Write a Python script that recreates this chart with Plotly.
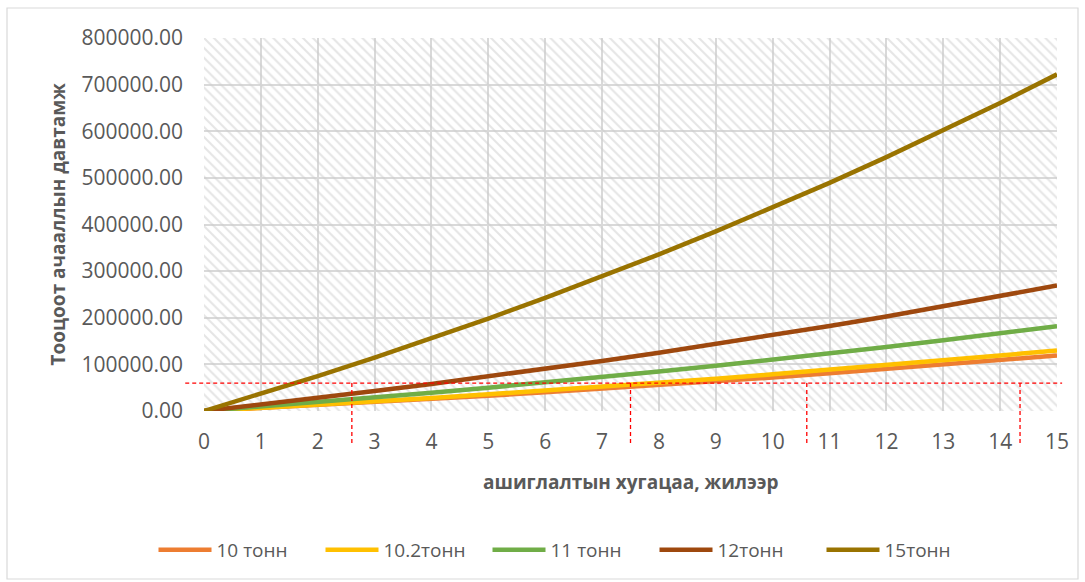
import plotly.graph_objects as go

# Years of operation
years = list(range(0, 16))

# Accumulated load cycles per vehicle load class
load_10 = [0, 6100, 12400, 18900, 25700, 32700, 40000, 47500, 55400, 63500,
           71900, 80700, 89700, 99100, 108900, 119000]
load_10_2 = [0, 6600, 13500, 20600, 28000, 35700, 43700, 51900, 60500, 69300,
             78600, 88100, 98000, 108300, 119000, 130000]
load_11 = [0, 9300, 18900, 28900, 39200, 50000, 61100, 72700, 84700, 97100,
           110000, 123400, 137200, 151600, 166500, 182000]
load_12 = [0, 13700, 27900, 42700, 58000, 73900, 90300, 107400, 125100, 143500,
           162600, 182300, 202800, 224100, 246100, 269000]
load_15 = [0, 36800, 75000, 114600, 155700, 198300, 242500, 288300, 335900, 385100,
           436300, 489400, 544400, 601500, 660600, 722000]

series_names = ["10 тонн", "10.2тонн", "11 тонн", "12тонн", "15тонн"]
series_values = [load_10, load_10_2, load_11, load_12, load_15]
series_colors = ["#ED7D31", "#FFC000", "#70AD47", "#9E480E", "#997300"]

# Reference levels marked with red dashed guides
threshold_level = 60000
marker_years = [2.6, 7.5, 10.6, 14.35]

x_range = [0, 15]
y_range = [0, 800000]
y_ticks = list(range(0, 800001, 100000))
y_tick_text = [f"{v:.2f}" for v in y_ticks]

W, H = 1085, 582
ML, MR, MT, MB = 204, 28, 38, 171

fig = go.Figure()

# Hatched plot-area background
fig.add_trace(go.Scatter(
    x=[x_range[0], x_range[1], x_range[1], x_range[0], x_range[0]],
    y=[y_range[0], y_range[0], y_range[1], y_range[1], y_range[0]],
    mode="lines", line=dict(width=0), fill="toself",
    fillcolor="rgba(0,0,0,0)",
    fillpattern=dict(shape="\\", fgcolor="#cccccc", bgcolor="rgba(255,255,255,0)",
                     size=7, solidity=0.3),
    hoverinfo="skip", showlegend=False,
))

for name, vals, col in zip(series_names, series_values, series_colors):
    fig.add_trace(go.Scatter(
        x=years, y=vals, name=name, mode="lines",
        line=dict(color=col, width=4.5),
    ))


def px(v):
    return (v - x_range[0]) / (x_range[1] - x_range[0])


def py(v):
    return (v - y_range[0]) / (y_range[1] - y_range[0])


dash = dict(color="#FF0000", width=1.3, dash="4px,3px")
shapes = [
    dict(type="line", xref="paper", yref="paper",
         x0=px(-0.33), x1=px(15.09), y0=py(threshold_level), y1=py(threshold_level),
         line=dash),
]
for yr in marker_years:
    shapes.append(dict(type="line", xref="paper", yref="paper",
                       x0=px(yr), x1=px(yr), y0=py(threshold_level), y1=py(-75000),
                       line=dash))

# Outer chart border
plot_w = W - ML - MR
plot_h = H - MT - MB
shapes.append(dict(type="rect", xref="paper", yref="paper",
                   x0=(7 - ML) / plot_w, x1=(1078 - ML) / plot_w,
                   y0=(H - MB - 579) / plot_h, y1=(H - MB - 8) / plot_h,
                   line=dict(color="#d9d9d9", width=1.2), fillcolor="rgba(0,0,0,0)",
                   layer="below"))

font_family = "Open Sans, Noto Sans, sans-serif"

fig.update_layout(
    width=W, height=H,
    margin=dict(l=ML, r=MR, t=MT, b=MB, autoexpand=False),
    paper_bgcolor="white", plot_bgcolor="white",
    font=dict(family=font_family, color="#595959"),
    shapes=shapes,
    xaxis=dict(
        range=x_range, tickmode="array", tickvals=years,
        ticktext=[str(y) for y in years],
        showgrid=True, gridcolor="#d9d9d9", gridwidth=1.5,
        zeroline=False, showline=False, ticks="",
        tickfont=dict(size=21, color="#595959"),
        ticklabelstandoff=16,
    ),
    yaxis=dict(
        range=y_range, tickmode="array", tickvals=y_ticks, ticktext=y_tick_text,
        showgrid=True, gridcolor="#d9d9d9", gridwidth=1.5,
        zeroline=False, showline=False, ticks="",
        tickfont=dict(size=21, color="#595959"),
        ticklabelstandoff=20,
    ),
    legend=dict(
        orientation="h", x=(571 - ML) / plot_w, xanchor="center",
        y=(H - MB - 550) / plot_h,
        yanchor="middle", font=dict(size=19, color="#595959"),
        itemwidth=53, entrywidth=99, bgcolor="rgba(0,0,0,0)",
    ),
    annotations=[
        dict(text="<b>ашиглалтын хугацаа, жилээр</b>", xref="paper", yref="paper",
             x=(631 - ML) / plot_w, y=(H - MB - 482) / plot_h,
             xanchor="center", yanchor="middle", showarrow=False,
             font=dict(size=19, color="#595959")),
        dict(text="<b>Тооцоот ачааллын давтамж</b>", xref="paper", yref="paper",
             x=(57 - ML) / plot_w, y=0.5, textangle=-90,
             xanchor="center", yanchor="middle", showarrow=False,
             font=dict(size=19, color="#595959")),
    ],
)

fig.write_html("out.html")
